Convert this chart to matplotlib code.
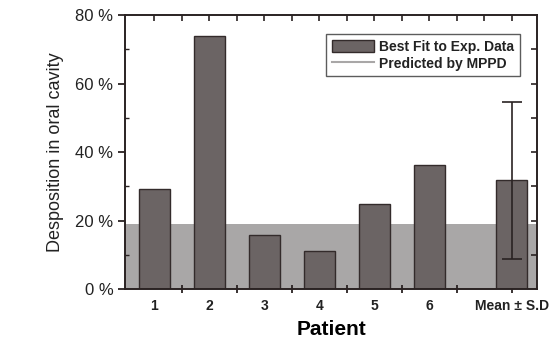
import matplotlib
matplotlib.use("Agg")
import matplotlib.pyplot as plt
from matplotlib.patches import Patch
from matplotlib.lines import Line2D
from matplotlib.ticker import MultipleLocator, FuncFormatter

# ---------------------------------------------------------------------------
# Data
# ---------------------------------------------------------------------------
patients     = ["1", "2", "3", "4", "5", "6"]
deposition   = [29.2, 74.0, 15.8, 11.0, 24.8, 36.2]
mean_label   = "Mean \u00b1 S.D"
mean_value   = 31.8
mean_sd      = 22.9
mppd_value   = 19.0

BAR_COLOR  = "#6b6464"
EDGE_COLOR = "#332b2b"
BAND_COLOR = "#a9a7a7"
AXIS_COLOR = "#2a2222"

plt.rcParams["font.family"] = ["Liberation Sans", "DejaVu Sans"]

fig = plt.figure(figsize=(5.49, 3.43), dpi=100)
ax = fig.add_axes([0.228, 0.157, 0.750, 0.799])

# predicted band
ax.axhspan(0, mppd_value, color=BAND_COLOR, lw=0, zorder=0)

x_pat = list(range(1, len(patients) + 1))
x_mean = len(patients) + 1.5

ax.bar(x_pat, deposition, width=0.56, color=BAR_COLOR, edgecolor=EDGE_COLOR,
       linewidth=1.0, zorder=2)
ax.bar([x_mean], [mean_value], width=0.56, color=BAR_COLOR, edgecolor=EDGE_COLOR,
       linewidth=1.0, zorder=2)
ax.errorbar([x_mean], [mean_value], yerr=[mean_sd], fmt="none", ecolor=AXIS_COLOR,
            elinewidth=1.2, capsize=7, capthick=1.2, zorder=3)

ax.set_xlim(0.47, 7.96)
ax.set_ylim(0, 80)

# bottom axis: labels under bars, ticks between bars and at the mean bar
ax.xaxis.remove_overlapping_locs = False
ax.set_xticks(x_pat + [x_mean])
ax.set_xticklabels(patients + [mean_label], fontsize=10, fontweight="bold",
                   color="#222222")
ax.set_xticks([p + 0.5 for p in x_pat] + [x_mean], minor=True)
ax.tick_params(axis="x", which="major", length=0, pad=7)
ax.tick_params(axis="x", which="minor", direction="inout", length=6, width=1.3,
               color=AXIS_COLOR)

# y axis
ax.yaxis.set_major_locator(MultipleLocator(20))
ax.yaxis.set_minor_locator(MultipleLocator(10))
ax.yaxis.set_major_formatter(FuncFormatter(lambda v, p: f"{v:.0f} %"))
ax.tick_params(axis="y", which="major", direction="out", length=5, width=1.3,
               labelsize=12, colors="#222222", color=AXIS_COLOR)
ax.tick_params(axis="y", which="minor", direction="in", length=3, width=1.0,
               color=AXIS_COLOR)

# top and right frame ticks (small, inward)
frame = fig.add_axes(ax.get_position(), frameon=False)
frame.patch.set_visible(False)
frame.set_xlim(ax.get_xlim())
frame.set_ylim(ax.get_ylim())
frame.set_xticks([p / 2 for p in range(2, 2 * len(patients) + 4)])
frame.set_yticks(list(range(10, 80, 10)))
frame.tick_params(axis="both", direction="in", length=4, width=1.2,
                  color=AXIS_COLOR, top=True, right=True, bottom=False,
                  left=False, labeltop=False, labelright=False,
                  labelbottom=False, labelleft=False)

for s in ax.spines.values():
    s.set_linewidth(1.4)
    s.set_color(AXIS_COLOR)

ax.set_ylabel("Desposition in oral cavity", fontsize=13, color="#222222",
              labelpad=8)
ax.set_xlabel("Patient", fontsize=15, fontweight="bold", labelpad=5)

handles = [Patch(facecolor=BAR_COLOR, edgecolor=EDGE_COLOR, linewidth=1.0),
           Line2D([0], [0], color=BAND_COLOR, lw=1.5)]
leg = ax.legend(handles, ["Best Fit to Exp. Data", "Predicted by MPPD"],
                loc="upper right", bbox_to_anchor=(0.975, 0.955), fontsize=10,
                frameon=True, fancybox=False, edgecolor="#333333",
                handlelength=3.0, handleheight=0.9, borderpad=0.4,
                labelspacing=0.2, handletextpad=0.4)
leg.get_frame().set_linewidth(1.0)
for t in leg.get_texts():
    t.set_fontweight("bold")
    t.set_color("#222222")

fig.savefig("out.png", dpi=100)
